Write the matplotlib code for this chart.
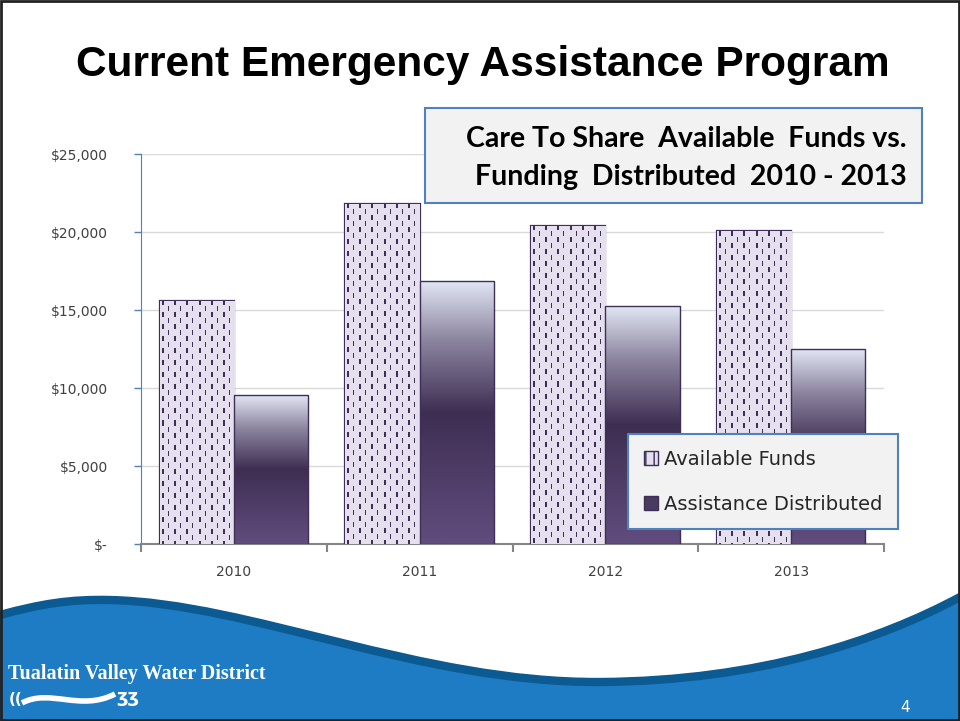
"""Care To Share: available funds vs. funding distributed, 2010-2013."""
import numpy as np
import matplotlib
matplotlib.use("Agg")
import matplotlib.pyplot as plt
from matplotlib.colors import LinearSegmentedColormap
from matplotlib.patches import Patch, Rectangle, PathPatch
from matplotlib.path import Path

years = ["2010", "2011", "2012", "2013"]
available = [15600, 21800, 20400, 20050]
distributed = [9550, 16850, 15250, 12500]
yticks = [0, 5000, 10000, 15000, 20000, 25000]
ytick_labels = ["$-", "$5,000", "$10,000", "$15,000", "$20,000", "$25,000"]
series_names = ["Available Funds", "Assistance Distributed"]

W, H = 960, 721
BAR_W = 0.4
LAVENDER = "#e6e0ee"
DARK = "#3d2f57"

fig = plt.figure(figsize=(W / 100, H / 100), dpi=100)
fig.patch.set_facecolor("white")

# ---- footer wave (decoration, pixel coords) ----
deco = fig.add_axes([0, 0, 1, 1], zorder=0)
deco.set_xlim(0, W); deco.set_ylim(H, 0); deco.axis("off")
top = [(0, 615), (40, 604), (70, 599), (110, 600),
       (250, 603), (420, 683), (600, 682),
       (760, 681), (880, 640), (960, 597)]
codes = [Path.MOVETO] + [Path.CURVE4] * 9
wave = Path(top + [(960, H), (0, H), (0, 615)], codes + [Path.LINETO, Path.LINETO, Path.CLOSEPOLY])
deco.add_patch(PathPatch(wave, facecolor="#1d7cc4", edgecolor="none"))
deco.add_patch(PathPatch(Path(top, codes), facecolor="none", edgecolor="#0b5a92", lw=6))
deco.text(8, 674, "Tualatin Valley Water District", color="white", fontsize=14.5,
          fontweight="bold", family="Liberation Serif", va="center", ha="left")
swoosh = Path([(22, 703), (50, 688), (80, 712), (115, 694)], [Path.MOVETO] + [Path.CURVE4] * 3)
deco.add_patch(PathPatch(swoosh, facecolor="none", edgecolor="white", lw=4))
deco.text(16, 700, "((", color="white", fontsize=11, fontweight="bold", va="center", ha="center")
deco.text(128, 697, "ʒʒ", color="white", fontsize=13, fontweight="bold", va="center", ha="center")
deco.text(905, 708, "4", color="white", fontsize=11, va="center", ha="center")
deco.add_patch(Rectangle((1, 1), W - 2, H - 2, facecolor="none", edgecolor="#222222", lw=2))

fig.text(0.503, 1 - 65 / H, "Current Emergency Assistance Program", ha="center", va="center",
         fontsize=30.5, fontweight="bold", family="Liberation Sans", color="black")

# ---- chart ----
ax = fig.add_axes([141 / W, 1 - 544 / H, 743 / W, 390 / H], zorder=2)
ax.set_facecolor("none")
x = np.arange(len(years))

grad_cmap = LinearSegmentedColormap.from_list(
    "dist", [(0.0, "#614d7e"), (0.5, "#3e2e52"), (0.78, "#8d86a0"), (1.0, "#e1e6f3")])
grad = np.linspace(0, 1, 256).reshape(-1, 1)

px_per_unit_y = 390 / 25000
px_per_unit_x = 743 / 4


def dash_texture(hpx, wpx):
    img = np.empty((hpx, wpx, 3))
    img[:] = matplotlib.colors.to_rgb(LAVENDER)
    dark = matplotlib.colors.to_rgb(DARK)
    for c in range(2, wpx - 1, 6):
        k = (c // 6) % 2
        thick = 2 if k == 0 else 1
        for r in range(hpx):
            if (r + 6 * k) % 12 < 5:
                img[r, c:c + thick] = dark
    return img


avail_bars = ax.bar(x - BAR_W / 2, available, BAR_W, facecolor=LAVENDER,
                    edgecolor=DARK, lw=1.6, zorder=3)
dist_bars = ax.bar(x + BAR_W / 2, distributed, BAR_W, facecolor="none",
                   edgecolor=DARK, lw=1.0, zorder=4)

for bar, v in zip(avail_bars, available):
    x0 = bar.get_x()
    hpx = max(int(round(v * px_per_unit_y)), 2)
    wpx = int(round(BAR_W * px_per_unit_x))
    im = ax.imshow(dash_texture(hpx, wpx), extent=[x0, x0 + BAR_W, 0, v], aspect="auto",
                   interpolation="nearest", origin="upper", zorder=3.5)
    im.set_clip_path(bar)

for bar, v in zip(dist_bars, distributed):
    x0 = bar.get_x()
    im = ax.imshow(grad, extent=[x0, x0 + BAR_W, 0, v], aspect="auto", cmap=grad_cmap,
                   origin="lower", zorder=3.2)
    im.set_clip_path(bar)

ax.set_xlim(-0.5, len(years) - 0.5)
ax.set_ylim(0, 25000)
ax.set_yticks(yticks)
ax.set_yticklabels(ytick_labels)
ax.yaxis.grid(True, color="#d9d9d9", lw=1)
ax.set_axisbelow(True)
ax.set_xticks(x)
ax.set_xticklabels(years)
ax.set_xticks(np.arange(-0.5, len(years)), minor=True)
ax.tick_params(axis="x", which="major", length=0, pad=15, labelsize=10, labelcolor="#404040")
ax.tick_params(axis="x", which="minor", length=6, width=1.5, color="#868686")
ax.tick_params(axis="y", length=5, width=1, color="#4f81bd", labelsize=10, labelcolor="#404040", pad=19)
for lab in ax.get_yticklabels():
    lab.set_horizontalalignment("right")
ax.spines["left"].set_color("#4f81bd")
ax.spines["bottom"].set_color("#868686")
ax.spines["bottom"].set_linewidth(1.5)
ax.spines["top"].set_visible(False)
ax.spines["right"].set_visible(False)

# chart title box
fig.text(907 / W, 1 - 158 / H, "Care To Share  Available  Funds vs.\nFunding  Distributed  2010 - 2013",
         ha="right", va="center", fontsize=20.5, fontweight="bold", family="Lato",
         linespacing=1.55, color="black", zorder=5)
fig.patches.append(Rectangle((425 / W, 1 - 203 / H), 497 / W, 95 / H, transform=fig.transFigure,
                             facecolor="#f2f2f2", edgecolor="#4f81bd", lw=1.5, zorder=4))

handles = [Patch(facecolor=LAVENDER, edgecolor=DARK, hatch="||"),
           Patch(facecolor="#4a3a62", edgecolor=DARK)]
leg = ax.legend(handles, series_names, loc="upper left",
                bbox_to_anchor=(628 / W, 1 - 434 / H), bbox_transform=fig.transFigure,
                fancybox=False, framealpha=1, facecolor="#f2f2f2", edgecolor="#4f81bd",
                fontsize=14, handlelength=0.75, handleheight=0.75, handletextpad=0.3,
                labelspacing=1.35, borderpad=0.8, borderaxespad=0)
leg.get_frame().set_linewidth(1.5)
leg.set_zorder(10)
for t in leg.get_texts():
    t.set_color("#262626")

fig.savefig("out.png", dpi=100)
